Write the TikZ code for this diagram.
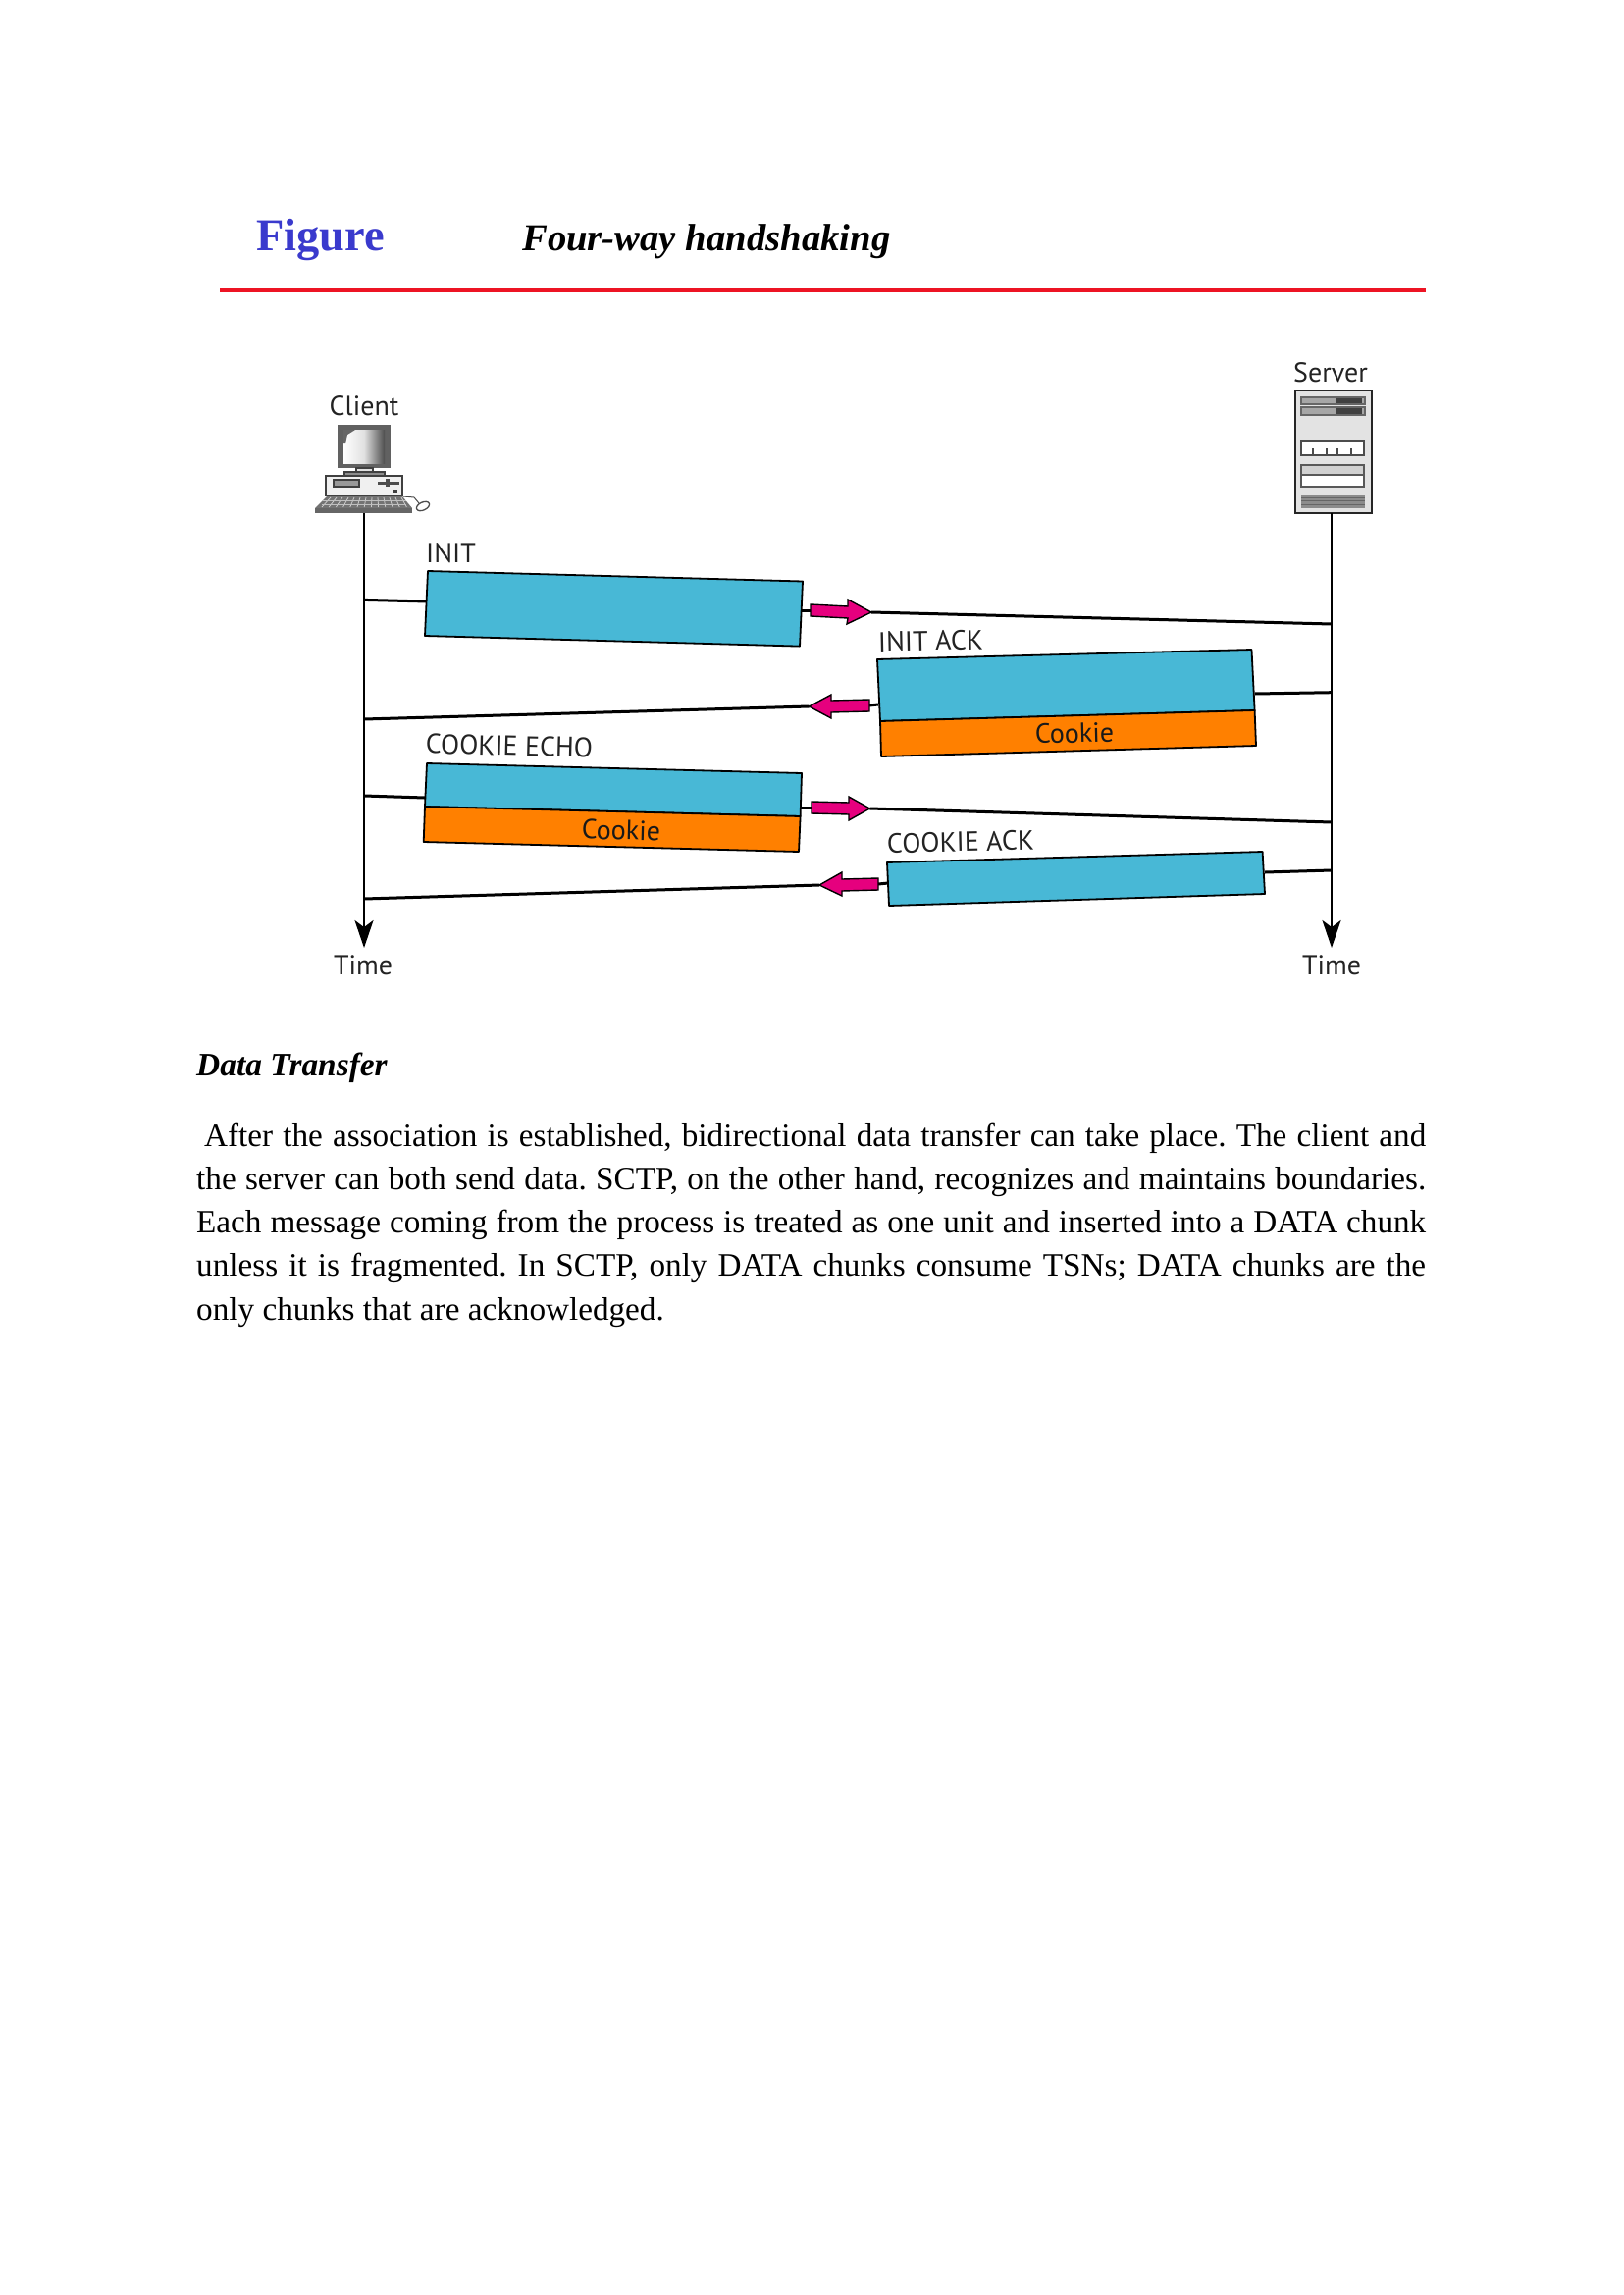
\documentclass[tikz,border=0pt]{standalone}
\usepackage{fontspec}
\setmainfont{Liberation Serif}
\newfontfamily\labfont{PT Sans}
\usetikzlibrary{arrows.meta}
\frenchspacing
\definecolor{chunkblue}{RGB}{72,184,214}
\definecolor{cookieorange}{RGB}{255,128,0}
\definecolor{pinkarrow}{RGB}{230,0,126}
\definecolor{figblue}{RGB}{58,58,205}
\definecolor{rulered}{RGB}{237,20,36}
\definecolor{inkdark}{RGB}{35,35,35}
\tikzset{
  x=1pt,y=-1pt,
  lab/.style={font=\labfont\fontsize{28}{30}\selectfont,text=inkdark,inner sep=0pt},
  bodyline/.style={font=\fontsize{33.2}{40}\selectfont,anchor=base west,inner sep=0pt,text=black},
  timeline/.style={draw=black,line width=2.8pt,-{Stealth[length=28pt,width=19pt,inset=7pt]}},
  msg/.style={draw=black,line width=3pt},
  chunk/.style={draw=black,line width=1.8pt,fill=chunkblue,line join=round},
  cookie/.style={draw=black,line width=1.8pt,fill=cookieorange,line join=round},
  pinkhead/.style={draw=black,line width=1.4pt,fill=pinkarrow,line join=miter},
  devline/.style={draw=black!75,line width=1.3pt}
}
\begin{document}
\begin{tikzpicture}
\useasboundingbox (0,0) rectangle (1654,2339);
\fill[white] (0,0) rectangle (1654,2339);

% heading
\node[font=\bfseries\fontsize{46.4}{50}\selectfont,text=figblue,anchor=base west,inner sep=0pt] (figlabel) at (261,255) {Figure};
\node[font=\bfseries\itshape\fontsize{38.7}{42}\selectfont,text=black,anchor=base west,inner sep=0pt] (figtitle) at (532,255) {Four-way handshaking};
\coordinate (ruleL) at (224,296);
\coordinate (ruleR) at (1453,296);
\draw[rulered,line width=3.6pt] (ruleL) -- (ruleR);

% client
\node[lab,anchor=base] (clientlabel) at (371,423) {Client};
\fill[black!62] (344,433) rectangle (398,477);
\shade[left color=white,right color=black!70,middle color=black!12] (350,438) rectangle (392,472);
\fill[black!60] (350,438) -- (362,438) -- (354,443) -- (352,452) -- (350,452) -- cycle;
\draw[devline,fill=black!12] (363,477) rectangle (380,482);
\draw[devline,fill=black!45] (351,481) rectangle (392,485);
\draw[devline,fill=black!6] (332,485) rectangle (410,505);
\draw[devline,fill=black!40] (340,489) rectangle (366,496);
\fill[black!70] (385,491) rectangle (407,494);
\fill[black!70] (393,488) rectangle (397,496);
\fill[black!75] (400,499) rectangle (405,502);
\fill[black!55] (333,506) -- (410,506) -- (420,518) -- (321,518) -- cycle;
\foreach \k in {0,...,12}{
  \draw[white!80!black,line width=.8pt] ({337+\k*6},507) -- ({328+\k*7.2},517);
}
\foreach \yy in {510,514}{
  \draw[black!25,line width=.6pt] (328,\yy) -- (414,\yy);
}
\fill[black!60] (321,518) rectangle (420,523);
\draw[black!70,line width=1pt] (411,506) -- (422,507) -- (427,513);
\draw[black!70,line width=1.3pt,fill=white,rotate around={25:(431,516)}] (431,516) ellipse (7 and 4);

% server
\node[lab,anchor=base] (serverlabel) at (1356,389) {Server};
\draw[draw=black!85,line width=2.4pt,fill=black!11] (1320,398) rectangle (1398,523);
\draw[black!60,line width=1.2pt,fill=black!35] (1326,405) rectangle (1391,412);
\fill[black!75] (1362,406) rectangle (1388,411);
\draw[black!60,line width=1.2pt,fill=black!35] (1326,415) rectangle (1391,423);
\fill[black!75] (1362,416) rectangle (1388,422);
\draw[black!70,line width=1.5pt,fill=white] (1326,449) rectangle (1390,464);
\foreach \xx in {1338,1352,1363,1377}{
  \draw[black!70,line width=1.1pt] (\xx,457) -- (\xx,464);
}
\draw[black!65,line width=1.5pt,fill=white] (1326,474) rectangle (1390,496);
\draw[black!65,line width=1.5pt,fill=black!18] (1326,474) rectangle (1390,484);
\fill[black!45] (1326,504) rectangle (1391,518);
\foreach \yy in {507,510.5,514}{
  \draw[black!60,line width=1pt] (1326,\yy) -- (1391,\yy);
}

% time lines
\coordinate (clientTop) at (371,523);
\coordinate (clientEnd) at (371,966);
\coordinate (serverTop) at (1357,523);
\coordinate (serverEnd) at (1357,966);
\draw[timeline] (clientTop) -- (clientEnd);
\draw[timeline] (serverTop) -- (serverEnd);
\node[lab,anchor=base] (timeC) at (370,993.5) {Time};
\node[lab,anchor=base] (timeS) at (1357,993.5) {Time};

% INIT
\coordinate (i1c) at (371,611.4);
\coordinate (i1w) at (436,613);
\coordinate (i1e) at (817,622);
\coordinate (i1t) at (826,622);
\coordinate (i1h) at (888,624);
\coordinate (i1s) at (1357,636);
\draw[msg] (i1c) -- (i1w);
\draw[msg] (i1e) -- (i1t);
\draw[msg] (i1h) -- (i1s);
\filldraw[chunk] (436,582) -- (818,592.5) -- (815,658.6) -- (433,648) -- cycle;
\filldraw[pinkhead] (826,616) -- (864,618) -- (864,611) -- (i1h) -- (863,636) -- (864,630) -- (826,628) -- cycle;
\node[lab,anchor=base west] (initlabel) at (434,573) {INIT};

% INIT ACK
\coordinate (i2s) at (1357,705.7);
\coordinate (i2e) at (1278.6,707);
\coordinate (i2w) at (895,718);
\coordinate (i2t) at (886,719);
\coordinate (i2h) at (824.5,720);
\coordinate (i2c) at (371,733);
\draw[msg] (i2s) -- (i2e);
\draw[msg] (i2w) -- (i2t);
\draw[msg] (i2h) -- (i2c);
\filldraw[chunk] (894,672) -- (1275.5,662) -- (1278.6,724) -- (897,735) -- cycle;
\filldraw[cookie] (897,735) -- (1278.6,724) -- (1280,760) -- (898,771) -- cycle;
\filldraw[pinkhead] (886,713) -- (847,714) -- (847,708) -- (i2h) -- (847,732) -- (847,726) -- (886,725) -- cycle;
\node[lab,rotate=1.2,anchor=base west] (initacklabel) at (895,664) {INIT ACK};
\node[lab,text=black!90,rotate=1.5] (cookieA) at (1095,747) {Cookie};

% COOKIE ECHO
\coordinate (i3c) at (371,811);
\coordinate (i3w) at (433,813);
\coordinate (i3e) at (815.6,823);
\coordinate (i3t) at (827,823);
\coordinate (i3h) at (886.5,824);
\coordinate (i3s) at (1357,838);
\draw[msg] (i3c) -- (i3w);
\draw[msg] (i3e) -- (i3t);
\draw[msg] (i3h) -- (i3s);
\filldraw[chunk] (435,778) -- (817,788) -- (815.6,832) -- (433,822) -- cycle;
\filldraw[cookie] (433,822) -- (815.6,832) -- (814,868) -- (431.7,858) -- cycle;
\filldraw[pinkhead] (827,817) -- (865,818) -- (865,812) -- (i3h) -- (865,836) -- (865,830) -- (827,829) -- cycle;
\node[lab,rotate=-1.4] (echolabel) at (519,760) {COOKIE ECHO};
\node[lab,text=black!90,rotate=-1.5] (cookieB) at (633,846) {Cookie};

% COOKIE ACK
\coordinate (i4s) at (1357,887);
\coordinate (i4e) at (1289,889);
\coordinate (i4w) at (905,900);
\coordinate (i4t) at (895,901);
\coordinate (i4h) at (835,902);
\coordinate (i4c) at (371,916);
\draw[msg] (i4s) -- (i4e);
\draw[msg] (i4w) -- (i4t);
\draw[msg] (i4h) -- (i4c);
\filldraw[chunk] (904,879) -- (1286.6,868) -- (1289,911) -- (906,923) -- cycle;
\filldraw[pinkhead] (895,895) -- (858,896) -- (858,889) -- (i4h) -- (858,913) -- (858,908) -- (895,907) -- cycle;
\node[lab,rotate=1.3] (acklabel) at (979,858) {COOKIE ACK};

% text below
\node[font=\bfseries\itshape\fontsize{33.4}{40}\selectfont,anchor=base west,inner sep=0pt] (sechead) at (200,1096) {Data Transfer};
\node[bodyline] (l1) at (208,1168) {\makebox[1245pt][s]{After the association is established, bidirectional data transfer can take place. The client and}};
\node[bodyline] (l2) at (200,1212.7) {\makebox[1253pt][s]{the server can both send data. SCTP, on the other hand, recognizes and maintains boundaries.}};
\node[bodyline] (l3) at (200,1256.7) {\makebox[1253pt][s]{Each message coming from the process is treated as one unit and inserted into a DATA chunk}};
\node[bodyline] (l4) at (200,1300.7) {\makebox[1253pt][s]{unless it is fragmented. In SCTP, only DATA chunks consume TSNs; DATA chunks are the}};
\node[bodyline] (l5) at (200,1345) {only chunks that are acknowledged.};
\end{tikzpicture}
\end{document}
